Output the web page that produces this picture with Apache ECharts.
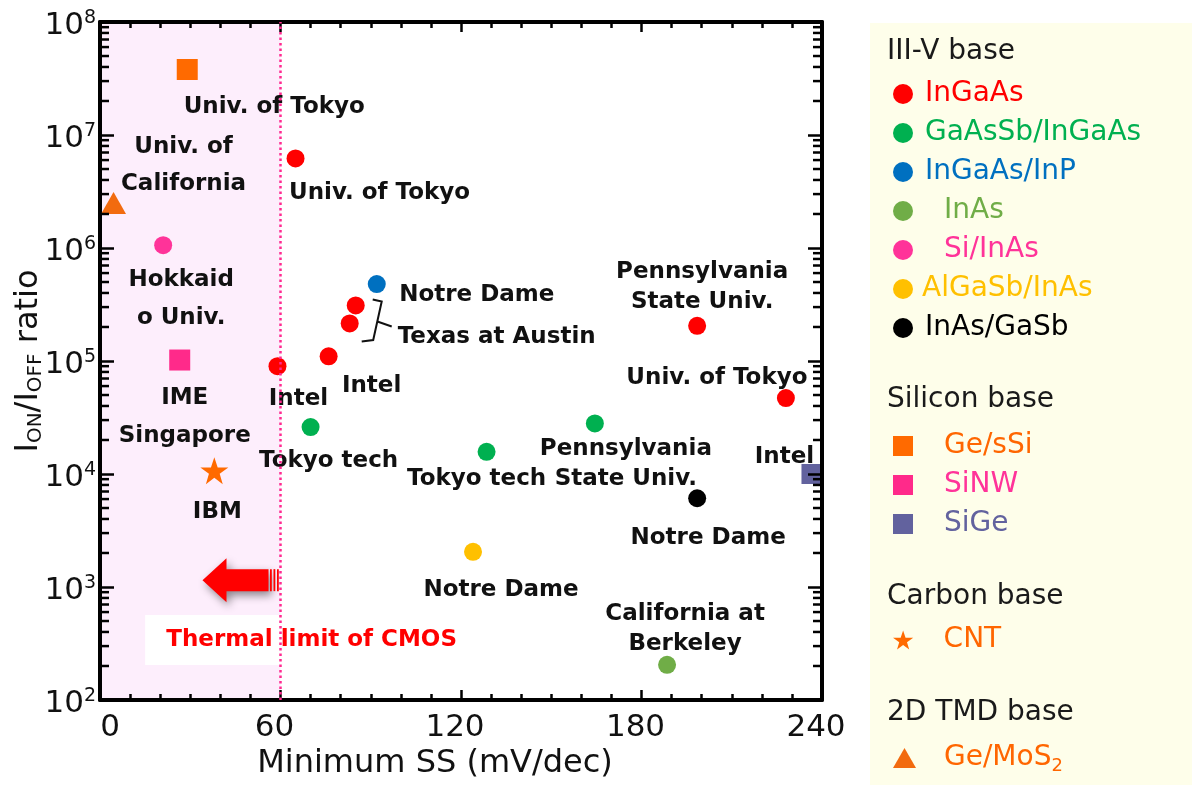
<!DOCTYPE html>
<html><head><meta charset="utf-8">
<script src="https://cdn.jsdelivr.net/npm/echarts@6/dist/echarts.min.js"></script>
<style>html,body{margin:0;padding:0;background:#fff}#c{width:1192px;height:785px}</style>
</head><body><div id="c"></div>
<script>
// ================= DATA =================
const xTicks = [0, 60, 120, 180, 240];
const yDecadeExponents = [2, 3, 4, 5, 6, 7, 8];

// III-V base
const ingaas = [[65, 6.2e6], [59, 9.0e4], [76, 1.1e5], [83, 2.15e5], [85, 3.1e5], [198.5, 2.05e5], [228, 4.7e4]];
const ingaasLabels = ['Univ. of Tokyo', 'Intel', 'Intel', 'Texas at Austin', '', 'Pennsylvania\nState Univ.', 'Univ. of Tokyo'];
const gaassbIngaas = [[70, 2.6e4], [128.5, 1.57e4], [164.5, 2.8e4]];
const gaassbIngaasLabels = ['Tokyo tech', 'Tokyo tech', 'Pennsylvania\nState Univ.'];
const ingaasInp = [[92, 4.8e5]];
const ingaasInpLabels = ['Notre Dame'];
const inas = [[188.5, 205]];
const inasLabels = ['California at\nBerkeley'];
const siInas = [[21, 1.06e6]];
const siInasLabels = ['Hokkaid\no Univ.'];
const algasbInas = [[124, 2.05e3]];
const algasbInasLabels = ['Notre Dame'];
const inasGasb = [[198.5, 6.1e3]];
const inasGasbLabels = ['Notre Dame'];
// Silicon base
const geSsi = [[29, 3.8e7]];
const geSsiLabels = ['Univ. of Tokyo'];
const sinw = [[26.5, 1.02e5]];
const sinwLabels = ['IME\nSingapore'];
const sige = [[236.5, 1.0e4]];
const sigeLabels = ['Intel'];
// Carbon base
const cnt = [[38, 1.07e4]];
const cntLabels = ['IBM'];
// 2D TMD base
const geMos2 = [[4.5, 2.5e6]];
const geMos2Labels = ['Univ. of\nCalifornia'];

const thermalLimit = 60;
const legendGroups = [
  ['III-V base', ['InGaAs', 'GaAsSb/InGaAs', 'InGaAs/InP', 'InAs', 'Si/InAs', 'AlGaSb/InAs', 'InAs/GaSb']],
  ['Silicon base', ['Ge/sSi', 'SiNW', 'SiGe']],
  ['Carbon base', ['CNT']],
  ['2D TMD base', ['Ge/MoS2']]
];

// ================= STYLE / LAYOUT =================
const FONT = 'DejaVu Sans';
const STAR = 'path://M50,0L61.8,35.1L98.9,35.1L68.8,56.8L79.4,91.9L50,70L20.6,91.9L31.2,56.8L1.1,35.1L38.2,35.1Z';

const seriesDefs = [
  {name: 'InGaAs', data: ingaas, labels: ingaasLabels, color: '#FF0000', symbol: 'circle', size: 18,
   offsets: [[84, 35], [21, 33], [43, 30], [147, 14], [0, 0], [5, -39], [-69, -20]], lh: [24, 24, 24, 24, 24, 30, 24]},
  {name: 'GaAsSb/InGaAs', data: gaassbIngaas, labels: gaassbIngaasLabels, color: '#00B050', symbol: 'circle', size: 18,
   offsets: [[18, 34], [-10, 27], [31, 41]], lh: [24, 24, 30]},
  {name: 'InGaAs/InP', data: ingaasInp, labels: ingaasInpLabels, color: '#0070C0', symbol: 'circle', size: 18,
   offsets: [[100, 11]], lh: [24]},
  {name: 'InAs', data: inas, labels: inasLabels, color: '#70AD47', symbol: 'circle', size: 18,
   offsets: [[18, -36]], lh: [30]},
  {name: 'Si/InAs', data: siInas, labels: siInasLabels, color: '#FF3399', symbol: 'circle', size: 18,
   offsets: [[18, 54]], lh: [38]},
  {name: 'AlGaSb/InAs', data: algasbInas, labels: algasbInasLabels, color: '#FFC000', symbol: 'circle', size: 18,
   offsets: [[28, 38]], lh: [24]},
  {name: 'InAs/GaSb', data: inasGasb, labels: inasGasbLabels, color: '#000000', symbol: 'circle', size: 18,
   offsets: [[11, 40]], lh: [24]},
  {name: 'Ge/sSi', data: geSsi, labels: geSsiLabels, color: '#FF6A00', symbol: 'rect', size: 21,
   offsets: [[87, 38]], lh: [24]},
  {name: 'SiNW', data: sinw, labels: sinwLabels, color: '#FF2A8A', symbol: 'rect', size: 21,
   offsets: [[5, 57]], lh: [38]},
  {name: 'SiGe', data: sige, labels: sigeLabels, color: '#62629E', symbol: 'rect', size: 20,
   offsets: [[-27, -17]], lh: [24]},
  {name: 'CNT', data: cnt, labels: cntLabels, color: '#FF6A00', symbol: STAR, size: [28, 27],
   offsets: [[3, 41]], lh: [24]},
  {name: 'Ge/MoS2', data: geMos2, labels: geMos2Labels, color: '#F26B0F', symbol: 'triangle', size: [25, 22],
   offsets: [[70, -38]], lh: [37]}
];

const legendTextColor = {
  'InGaAs': '#FF0000', 'GaAsSb/InGaAs': '#00B050', 'InGaAs/InP': '#0070C0', 'InAs': '#70AD47',
  'Si/InAs': '#FF3399', 'AlGaSb/InAs': '#FFC000', 'InAs/GaSb': '#000000', 'Ge/sSi': '#FF6600',
  'SiNW': '#FF3399', 'SiGe': '#62629E', 'CNT': '#FF6600', 'Ge/MoS2': '#FF6600'
};
const legendIcon = {'Ge/sSi': 'rect', 'SiNW': 'rect', 'SiGe': 'rect', 'CNT': STAR, 'Ge/MoS2': 'triangle'};
const legendSpacer = {'InAs': 'p26', 'Si/InAs': 'p26', 'AlGaSb/InAs': 'p4', 'Ge/sSi': 'p26', 'SiNW': 'p26', 'SiGe': 'p26', 'CNT': 'p25', 'Ge/MoS2': 'p23'};
const legendLayout = [
  {top: 69.5, header: 52, iw: 20, ih: 20},
  {top: 421.5, header: 400, iw: 20, ih: 20},
  {top: 615.5, header: 597, iw: 21, ih: 19},
  {top: 733.5, header: 713, iw: 23, ih: 20}
];

// ================= BUILD =================
const yMinorTickValues = [];
for (let i = 0; i < yDecadeExponents.length - 1; i++) {
  for (let m = 2; m <= 9; m++) yMinorTickValues.push(m * Math.pow(10, yDecadeExponents[i]));
}

const chart = echarts.init(document.getElementById('c'));

const scatterSeries = seriesDefs.map(d => ({
  type: 'scatter', name: d.name, xAxisIndex: 0, yAxisIndex: 0, z: 3,
  symbol: d.symbol, symbolSize: d.size,
  itemStyle: {color: d.color, opacity: 1},
  emphasis: {disabled: true},
  label: {show: false, position: 'inside', fontFamily: FONT, fontWeight: 'bold', fontSize: 23,
          color: '#111', align: 'center', verticalAlign: 'middle'},
  data: d.data.map((p, i) => ({
    value: p,
    label: d.labels[i] ? {show: true, formatter: d.labels[i], offset: d.offsets[i], lineHeight: d.lh[i]} : {show: false}
  }))
}));

const legends = legendGroups.map((g, gi) => ({
  orient: 'vertical', left: 888, top: legendLayout[gi].top,
  itemWidth: legendLayout[gi].iw, itemHeight: legendLayout[gi].ih, itemGap: 0,
  selectedMode: false,
  textStyle: {fontFamily: FONT, fontSize: 28, lineHeight: 39,
    rich: {p4: {width: 4}, p7: {width: 7}, p23: {width: 23}, p25: {width: 25}, p26: {width: 26},
           sub: {fontSize: 18, fontFamily: FONT, padding: [16, 0, 0, 0]}}},
  formatter: name => '{' + (legendSpacer[name] || 'p7') + '| }' + (name === 'Ge/MoS2' ? 'Ge/MoS{sub|2}' : name),
  data: g[1].map(n => ({name: n, icon: legendIcon[n] || 'circle', textStyle: {color: legendTextColor[n]}}))
}));

const axisLineStyle = {show: true, onZero: false, lineStyle: {color: '#000', width: 4}};
const xAxisBase = {
  type: 'value', min: xTicks[0], max: xTicks[xTicks.length - 1], interval: xTicks[1] - xTicks[0], z: 2,
  axisLine: axisLineStyle, splitLine: {show: false},
  axisTick: {show: true, inside: true, length: 10, lineStyle: {color: '#000', width: 2.5}},
  minorTick: {show: true, splitNumber: 6, length: 6, lineStyle: {color: '#000', width: 2.5}},
  minorSplitLine: {show: false}
};
const yAxisBase = {
  type: 'log', logBase: 10, min: Math.pow(10, yDecadeExponents[0]), max: Math.pow(10, yDecadeExponents[yDecadeExponents.length - 1]),
  splitNumber: 6, z: 2,
  axisLine: axisLineStyle, splitLine: {show: false},
  axisTick: {show: true, inside: true, length: 14, lineStyle: {color: '#000', width: 2.5}}
};

const option = {
  animation: false,
  backgroundColor: '#fff',
  grid: {left: 100, top: 22, width: 722, height: 678, containLabel: false, outerBoundsMode: 'none'},
  legend: legends,
  xAxis: [
    Object.assign({}, xAxisBase, {
      position: 'bottom',
      name: 'Minimum SS (mV/dec)', nameLocation: 'middle', nameGap: 44,
      nameTextStyle: {fontFamily: FONT, fontSize: 32, color: '#111', padding: [0, 52, 0, 0]},
      axisLabel: {show: true, margin: 12, fontFamily: FONT, fontSize: 31, color: '#111', padding: [0, 12, 0, 0],
        formatter: v => v === 0 ? '{z|0}' : String(v), rich: {z: {fontFamily: FONT, fontSize: 31, padding: [0, 0, 0, 32]}}}
    }),
    Object.assign({}, xAxisBase, {position: 'top', axisLabel: {show: false}})
  ],
  yAxis: [
    Object.assign({}, yAxisBase, {
      position: 'left',
      name: '{m|I}{s|ON}{m|/I}{s|OFF}{m| ratio}', nameLocation: 'middle', nameGap: 54, nameRotate: 90,
      nameMoveOverlap: false,
      nameTextStyle: {rich: {
        m: {fontFamily: FONT, fontSize: 32, color: '#111'},
        s: {fontFamily: FONT, fontSize: 20, color: '#111', padding: [14, 0, 0, 0]}}},
      axisLabel: {show: true, margin: 4, padding: [8, 0, 0, 0],
        formatter: v => '{b|10}{s|' + Math.round(Math.log10(v)) + '}',
        rich: {b: {fontFamily: FONT, fontSize: 31, color: '#111', lineHeight: 34},
               s: {fontFamily: FONT, fontSize: 19, color: '#111', verticalAlign: 'top', padding: [0, 0, 14, 0]}}}
    }),
    Object.assign({}, yAxisBase, {position: 'right', axisLabel: {show: false}, z: 10})
  ],
  series: [
    {type: 'scatter', name: '_bg', data: [], z: 1, silent: true, xAxisIndex: 0, yAxisIndex: 0,
     markArea: {silent: true, itemStyle: {color: '#FDEEFC'}, data: [[{xAxis: 0}, {xAxis: thermalLimit}]]},
     markLine: {silent: true, symbol: 'none', label: {show: false},
       lineStyle: {color: '#FF2A90', width: 2.5, type: [2.5, 3]}, data: [{xAxis: thermalLimit}]}},
    {type: 'custom', name: '_minor', silent: true, z: 11, xAxisIndex: 0, yAxisIndex: 0,
     data: yMinorTickValues.map(v => [xTicks[0], v]),
     renderItem: (params, api) => {
       const v = api.value(1);
       const pL = api.coord([xTicks[0], v]);
       const pR = api.coord([xTicks[xTicks.length - 1], v]);
       return {type: 'group', children: [
         {type: 'line', shape: {x1: pL[0], y1: pL[1], x2: pL[0] + 9, y2: pL[1]}, style: {stroke: '#000', lineWidth: 2.5}},
         {type: 'line', shape: {x1: pR[0], y1: pR[1], x2: pR[0] - 9, y2: pR[1]}, style: {stroke: '#000', lineWidth: 2.5}}
       ]};
     }}
  ].concat(scatterSeries)
};

chart.setOption(option);

// ---------- annotations (anchored to data coordinates) ----------
const arrowAnchor = [thermalLimit, 1150];
const boxAnchor = [15, 565];
const bracketAnchor = ingaas[4];
const toPx = p => chart.convertToPixel({xAxisIndex: 0, yAxisIndex: 0}, p);
const A = toPx(arrowAnchor), B = toPx(boxAnchor), C = toPx(bracketAnchor);
const rel = (o, pts) => pts.map(p => [o[0] + p[0], o[1] + p[1]]);

const graphics = [
  {type: 'rect', id: 'panel', z: 0, shape: {x: 870, y: 23, width: 322, height: 762}, style: {fill: '#FEFEEA'}, silent: true},
  {type: 'rect', id: 'tbox', z: 3, shape: {x: B[0], y: B[1], width: 330, height: 50}, style: {fill: '#FFFFFF'}, silent: true},
  {type: 'text', id: 'ttext', z: 4, x: B[0] + 166.5, y: B[1] + 25,
   style: {text: 'Thermal limit of CMOS', fill: '#FF0000', font: 'bold 23px "DejaVu Sans"', align: 'center', verticalAlign: 'middle'}},
  {type: 'polygon', id: 'arrow', z: 4,
   shape: {points: rel(A, [[-78, 0], [-54, -22], [-54, -11], [-12, -11], [-12, 11], [-54, 11], [-54, 22]])},
   style: {fill: '#FF0000', shadowBlur: 8, shadowOffsetX: 3, shadowOffsetY: 4, shadowColor: 'rgba(0,0,0,0.45)'}},
  {type: 'rect', id: 's1', z: 4, shape: {x: A[0] - 10.5, y: A[1] - 11, width: 1.8, height: 22}, style: {fill: '#FF0000'}},
  {type: 'rect', id: 's2', z: 4, shape: {x: A[0] - 7, y: A[1] - 11, width: 1.8, height: 22}, style: {fill: '#FF0000'}},
  {type: 'rect', id: 's3', z: 4, shape: {x: A[0] - 3.5, y: A[1] - 11, width: 1.8, height: 22}, style: {fill: '#FF0000'}},
  {type: 'polyline', id: 'br1', z: 4, shape: {points: rel(C, [[17, -6], [26, -4], [17.5, 34.5], [6, 36]])}, style: {stroke: '#111', lineWidth: 2, fill: null}},
  {type: 'polyline', id: 'br2', z: 4, shape: {points: rel(C, [[21.6, 16], [36, 21]])}, style: {stroke: '#111', lineWidth: 2, fill: null}}
];
legendGroups.forEach((g, gi) => {
  graphics.push({type: 'text', id: 'hdr' + gi, z: 5, x: 887, y: legendLayout[gi].header,
    style: {text: g[0], fill: '#1a1a1a', font: '28px "DejaVu Sans"', align: 'left', verticalAlign: 'middle'}});
});
chart.setOption({graphic: graphics});
</script>
</body></html>
